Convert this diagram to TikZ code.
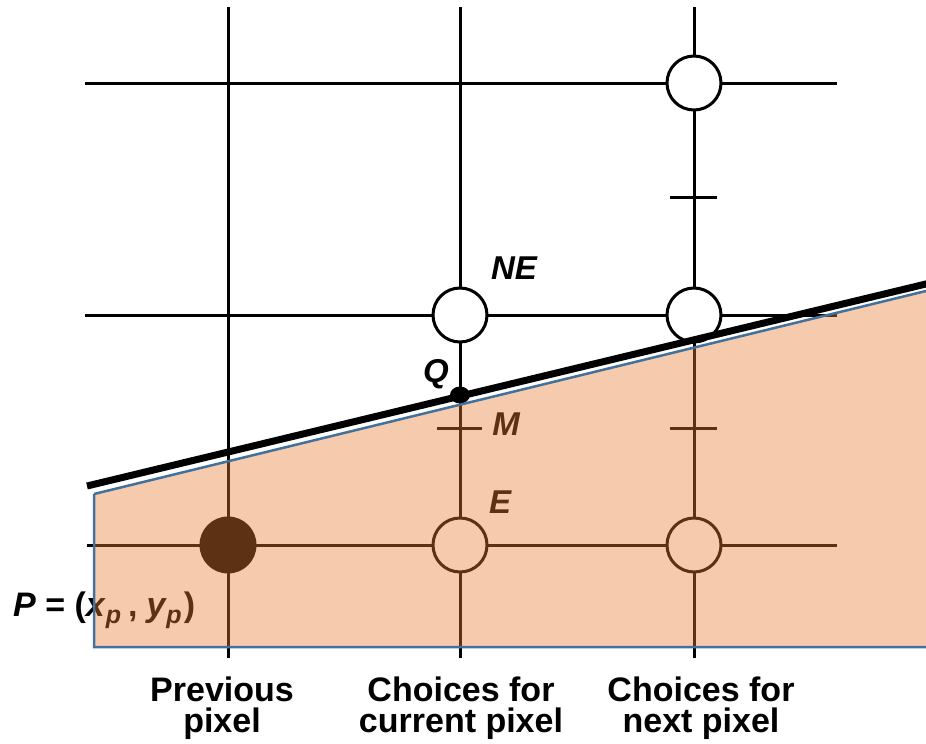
\documentclass[tikz,border=0pt]{standalone}
\usepackage{fontspec}
\setmainfont{Liberation Sans}
\usetikzlibrary{shapes.geometric}
\definecolor{peach}{RGB}{232,124,50}
\definecolor{outlineblue}{RGB}{65,113,156}
\begin{document}
\begin{tikzpicture}[x=1pt,y=-1pt,
  gridline/.style={line width=3pt},
  pix/.style={circle,draw,line width=3pt,fill=white,minimum size=54pt,inner sep=0pt},
  prevpix/.style={circle,fill=black,minimum size=57pt,inner sep=0pt},
  tickmark/.style={line width=3pt},
  scanline/.style={line width=7pt},
  letter/.style={font=\bfseries\itshape\fontsize{33}{33}\selectfont,inner sep=0pt},
  caption/.style={font=\bfseries\fontsize{34}{31}\selectfont,align=center,inner sep=0pt,anchor=north},
  region/.style={fill=peach,fill opacity=0.4},
  regionedge/.style={draw=outlineblue,line width=2.5pt}]
\useasboundingbox (0,0) rectangle (926,744);
% grid line ends
\coordinate (v1t) at (228,7);   \coordinate (v1b) at (228,658);
\coordinate (v2t) at (460,7);   \coordinate (v2b) at (460,658);
\coordinate (v3t) at (694,7);   \coordinate (v3b) at (694,658);
\coordinate (h1l) at (85,83);   \coordinate (h1r) at (837,83);
\coordinate (h2l) at (85,315);  \coordinate (h2r) at (837,315);
\coordinate (h3l) at (87,545);  \coordinate (h3r) at (837,545);
\draw[gridline] (v1t) -- (v1b);
\draw[gridline] (v2t) -- (v2b);
\draw[gridline] (v3t) -- (v3b);
\draw[gridline] (h1l) -- (h1r);
\draw[gridline] (h2l) -- (h2r);
\draw[gridline] (h3l) -- (h3r);
% tick marks (midpoints)
\coordinate (t1l) at (670,197); \coordinate (t1r) at (717,197);
\coordinate (t2l) at (437,428); \coordinate (t2r) at (482,428);
\coordinate (t3l) at (670,428); \coordinate (t3r) at (717,428);
\draw[tickmark] (t1l) -- (t1r);
\draw[tickmark] (t2l) -- (t2r);
\draw[tickmark] (t3l) -- (t3r);
% pixel circles
\node[pix] (nn) at (694,83) {};
\node[pix] (ne) at (460,315) {};
\node[pix] (nne) at (694,315) {};
\node[pix] (e) at (460,545) {};
\node[pix] (ee) at (694,545) {};
\node[prevpix] (p) at (228,545) {};
% the line
\coordinate (la) at (87,486);
\coordinate (lb) at (930,283);
\draw[scanline] (la) -- (lb);
\node[ellipse,fill=black,minimum width=20pt,minimum height=17pt,inner sep=0pt] (q) at (460,395) {};
% labels
\node[letter] (lne) at (514,268) {NE};
\node[letter] (lq) at (436,374) {Q};
\node[letter] (lm) at (506,424) {M};
\node[letter] (le) at (500,502) {E};
\node[font=\bfseries\fontsize{34}{34}\selectfont,anchor=base west,inner sep=0pt] (lp) at (13,616)
  {\itshape P\upshape\ = (\itshape x\kern1pt\raisebox{-7pt}{\fontsize{25}{25}\selectfont p}\upshape\kern7pt,\kern9pt\itshape y\kern1pt\raisebox{-7pt}{\fontsize{25}{25}\selectfont p}\upshape\kern2pt)};
% shaded region
\coordinate (ra) at (94,494);
\coordinate (rb) at (926,291);
\coordinate (rc) at (926,647);
\coordinate (rd) at (94,647);
\fill[region] (ra) -- (rb) -- (rc) -- (rd) -- cycle;
\draw[regionedge] (ra) -- (rb) (rc) -- (rd) -- (ra);
% captions
\node[caption] (c1) at (222,677) {Previous\\pixel};
\node[caption] (c2) at (461,677) {Choices for\\current pixel};
\node[caption] (c3) at (701,677) {Choices for\\next pixel};
\end{tikzpicture}
\end{document}
